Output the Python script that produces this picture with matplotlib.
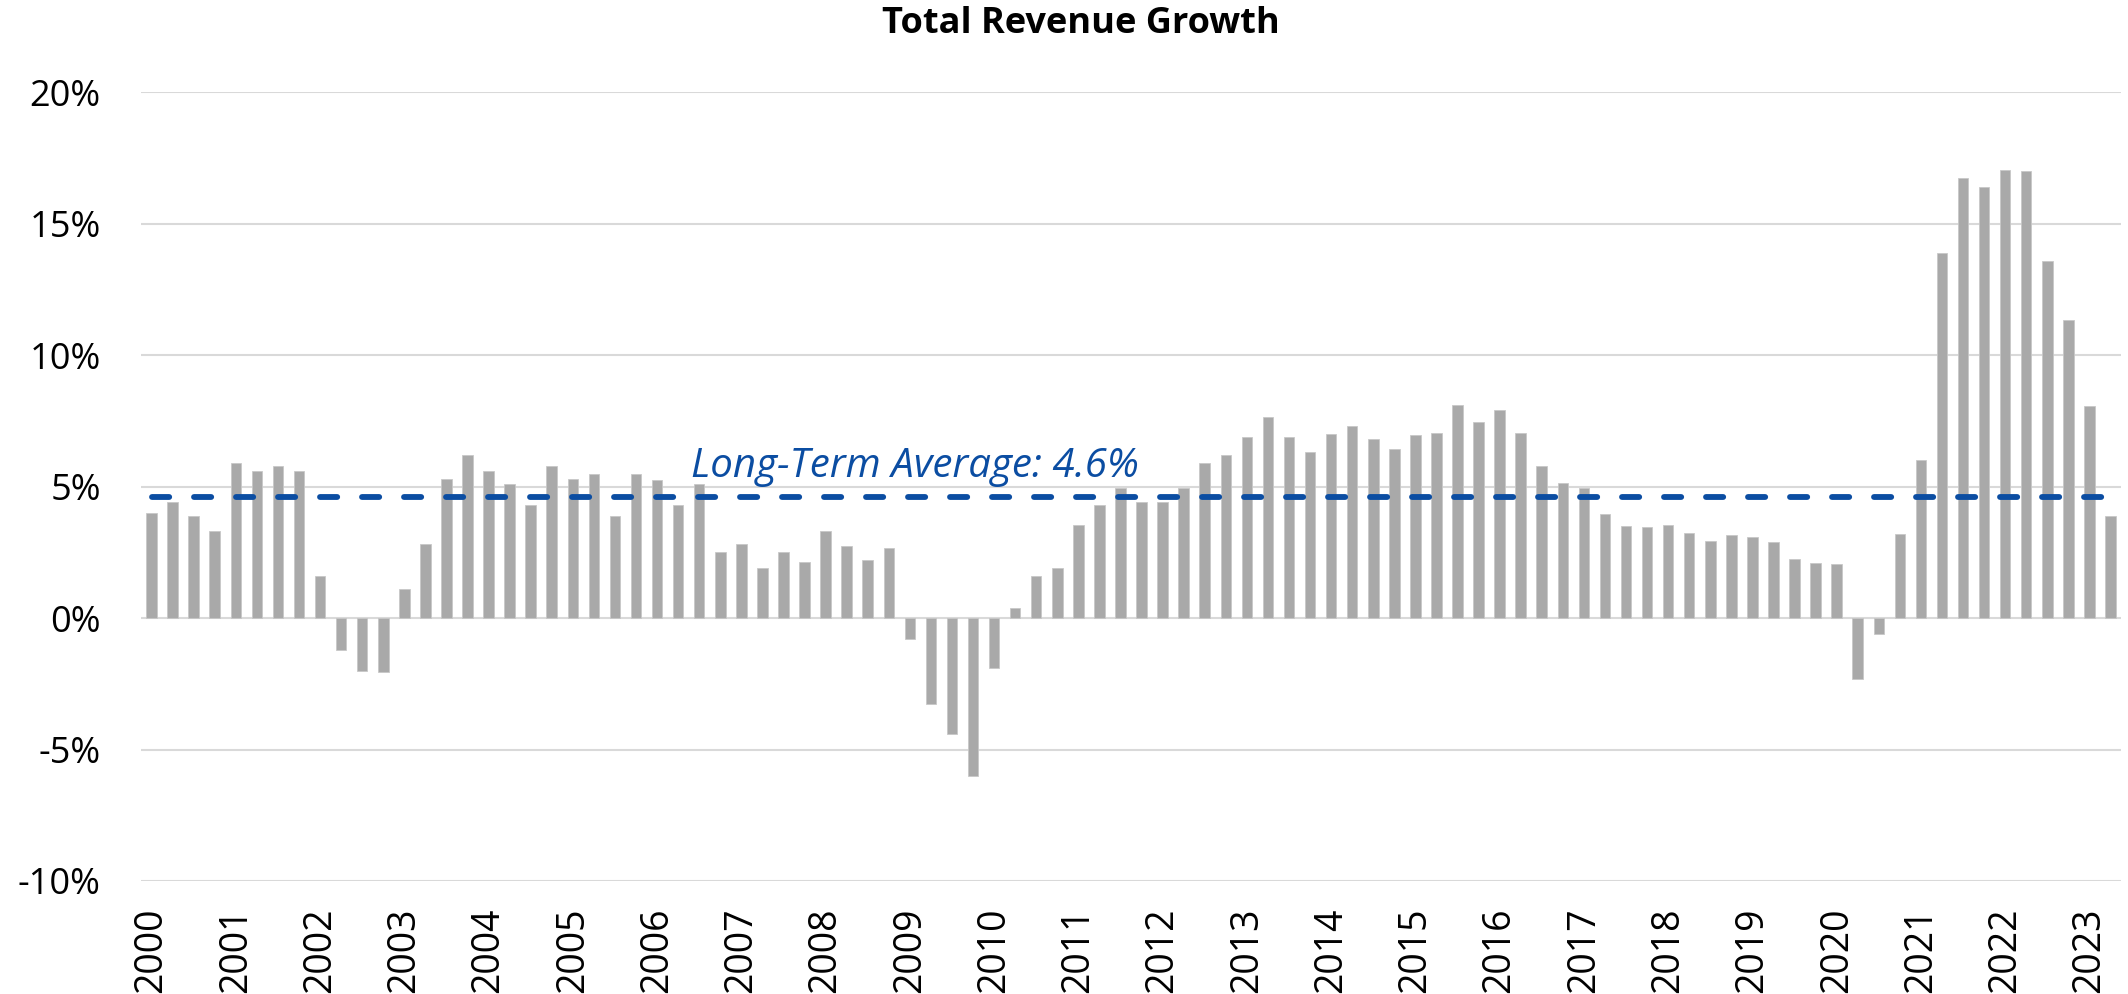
import matplotlib
matplotlib.use("Agg")
from matplotlib import pyplot as plt
import numpy as np

plt.rcParams['font.family'] = ['Open Sans', 'DejaVu Sans']

# quarterly total revenue growth, %, 2000Q1 .. 2023Q2
growth = [
    4.0, 4.4, 3.9, 3.3,      # 2000
    5.9, 5.6, 5.8, 5.6,      # 2001
    1.6, -1.2, -2.0, -2.05,  # 2002
    1.1, 2.8, 5.3, 6.2,      # 2003
    5.6, 5.1, 4.3, 5.8,      # 2004
    5.3, 5.5, 3.9, 5.5,      # 2005
    5.25, 4.3, 5.1, 2.5,     # 2006
    2.8, 1.9, 2.5, 2.15,     # 2007
    3.3, 2.75, 2.2, 2.65,    # 2008
    -0.8, -3.25, -4.4, -6.0, # 2009
    -1.9, 0.4, 1.6, 1.9,     # 2010
    3.55, 4.3, 4.95, 4.4,    # 2011
    4.4, 4.95, 5.9, 6.2,     # 2012
    6.9, 7.65, 6.9, 6.3,     # 2013
    7.0, 7.3, 6.8, 6.45,     # 2014
    6.95, 7.05, 8.1, 7.45,   # 2015
    7.9, 7.05, 5.8, 5.15,    # 2016
    4.95, 3.95, 3.5, 3.45,   # 2017
    3.55, 3.25, 2.95, 3.15,  # 2018
    3.1, 2.9, 2.25, 2.1,     # 2019
    2.05, -2.3, -0.6, 3.2,   # 2020
    6.0, 13.9, 16.75, 16.4,  # 2021
    17.05, 17.0, 13.6, 11.35,# 2022
    8.05, 3.9,               # 2023
]
years = [str(y) for y in range(2000, 2024)]
long_term_avg = 4.6

x = np.arange(len(growth))
blue = '#0B4DA2'

fig = plt.figure(figsize=(21.28, 9.94), dpi=100)
ax = fig.add_axes([141/2128, 1 - 881/994, 1980/2128, (881 - 92.3)/994])

ax.bar(x, growth, width=0.5, color='#a9a9a9', edgecolor='#c8c8c8', linewidth=0.6, zorder=2)
ax.plot([x[0], x[-1]], [long_term_avg, long_term_avg], color=blue, lw=4.2,
        linestyle=(0, (2.95, 4.25)), dash_capstyle='round', zorder=3)
ax.text(25.6, 5.37, f"Long-Term Average: {long_term_avg}%", color=blue, fontsize=29,
        fontstyle='italic', ha='left', va='baseline', zorder=4)

ax.set_xlim(-0.5, len(growth) - 0.5)
ax.set_ylim(-10, 20)
ax.set_yticks(np.arange(-10, 21, 5))
ax.set_yticklabels([f"{v}%" for v in range(-10, 21, 5)], fontsize=26)
ax.set_xticks(np.arange(0, len(growth), 4))
ax.set_xticklabels(years, rotation=90, fontsize=27)
ax.tick_params(axis='both', length=0)
ax.tick_params(axis='y', pad=29)
ax.tick_params(axis='x', pad=19)
ax.grid(axis='y', color='#d9d9d9', lw=1.5, zorder=0)
ax.set_axisbelow(True)
for s in ax.spines.values():
    s.set_visible(False)

fig.text(1081/2128, 1 - 24/994, "Total Revenue Growth", fontsize=26, fontweight='bold',
         ha='center', va='center')

fig.savefig("out.png", dpi=100)
